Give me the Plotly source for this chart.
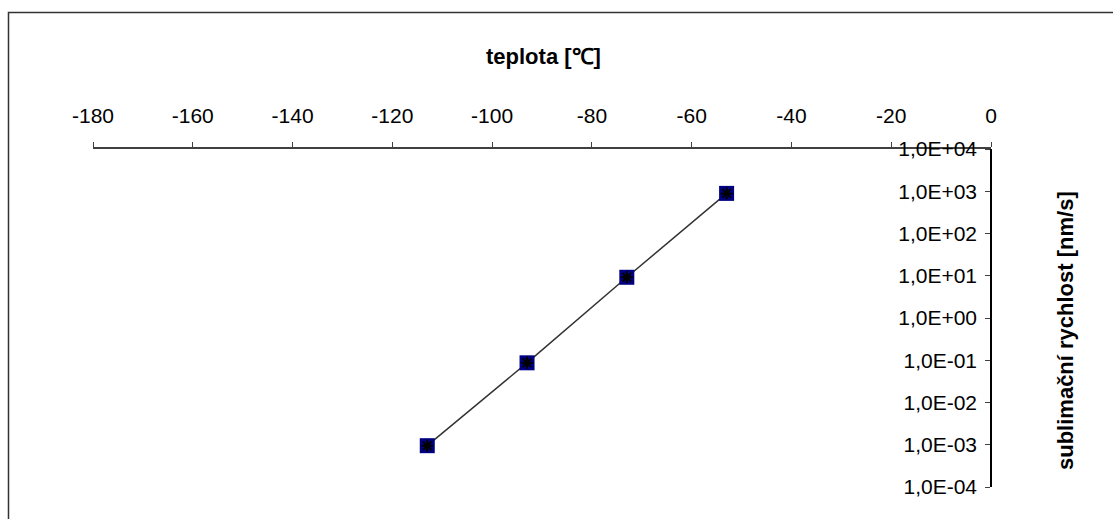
import plotly.graph_objects as go

# Data
teplota = [-113, -93, -73, -53]
rychlost = [0.00095, 0.087, 9.2, 890]

x_tickvals = [-180, -160, -140, -120, -100, -80, -60, -40, -20, 0]
x_ticktext = ["-180", "-160", "-140", "-120", "-100", "-80", "-60", "-40", "-20", "0"]
y_tickvals = [1e-4, 1e-3, 1e-2, 1e-1, 1e0, 1e1, 1e2, 1e3, 1e4]
y_ticktext = ["1,0E-04", "1,0E-03", "1,0E-02", "1,0E-01", "1,0E+00",
              "1,0E+01", "1,0E+02", "1,0E+03", "1,0E+04"]

W, H = 1113, 519
L, R, T, B = 93, 122, 149, 32
pw, ph = W - L - R, H - T - B

def px_x(px):
    return (px - L) / pw

def px_y(py):
    return (H - B - py) / ph

font = "Arial, Liberation Sans, sans-serif"
FS = 21
TFS = 22

fig = go.Figure()
fig.add_trace(go.Scatter(
    x=teplota, y=rychlost, mode="lines+markers",
    line=dict(color="#333333", width=1.5),
    marker=dict(symbol="square", size=15, color="#000080",
                line=dict(width=0)),
    showlegend=False, hoverinfo="x+y"))
fig.add_trace(go.Scatter(
    x=teplota, y=rychlost, mode="markers",
    marker=dict(symbol="asterisk", size=10, color="black",
                line=dict(color="black", width=2)),
    showlegend=False, hoverinfo="skip"))

fig.update_layout(
    width=W, height=H,
    margin=dict(l=L, r=R, t=T, b=B, autoexpand=False),
    paper_bgcolor="white", plot_bgcolor="white",
    font=dict(family=font, size=FS, color="black"),
    xaxis=dict(
        side="top", range=[-180, 0], tickvals=x_tickvals, ticktext=x_ticktext,
        showline=True, linecolor="#404040", linewidth=1.5,
        ticks="outside", ticklen=5, tickcolor="#404040", tickwidth=1,
        showgrid=False, zeroline=False, ticklabelstandoff=11,
        tickfont=dict(family=font, size=FS, color="black"),
        automargin=False,
    ),
    yaxis=dict(
        side="left", anchor="free", position=1.0,
        type="log", range=[-4, 4],
        tickvals=y_tickvals, ticktext=y_ticktext,
        showline=True, linecolor="black", linewidth=1.5,
        ticks="outside", ticklen=5, tickcolor="#404040", tickwidth=1,
        ticklabelstandoff=4,
        tickfont=dict(family=font, size=FS, color="black"),
        showgrid=False, zeroline=False, automargin=False,
    ),
    annotations=[
        dict(text="<b>teplota [℃]</b>", x=px_x(543), y=px_y(56),
             xref="paper", yref="paper", showarrow=False,
             xanchor="center", yanchor="middle",
             font=dict(family=font, size=TFS, color="black")),
        dict(text="<b>sublimační rychlost [nm/s]</b>", x=px_x(1065), y=px_y(331),
             xref="paper", yref="paper", showarrow=False, textangle=-90,
             xanchor="center", yanchor="middle",
             font=dict(family=font, size=TFS, color="black")),
    ],
    shapes=[
        dict(type="rect", xref="paper", yref="paper",
             x0=px_x(8.5), x1=px_x(1130), y0=px_y(540), y1=px_y(12.5),
             line=dict(color="#333333", width=1.5), fillcolor="rgba(0,0,0,0)",
             layer="below"),
    ],
)

fig.write_html("out.html")
